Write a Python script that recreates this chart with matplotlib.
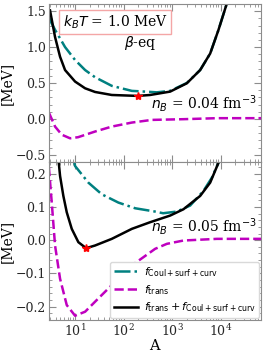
import matplotlib
matplotlib.use("Agg")
import matplotlib.pyplot as plt
from matplotlib.ticker import AutoMinorLocator, LogLocator, NullFormatter

plt.rcParams['font.family'] = ['DejaVu Serif']
plt.rcParams['mathtext.fontset'] = 'dejavusans'

# ---------------- data: n_B = 0.04 fm^-3 (top panel) ----------------
A_tot_04 = [3.05, 3.87, 4.91, 6.22, 10.0, 16.1, 25.8, 57.1, 196, 352, 910, 2009, 3777, 6075, 9020, 13430]
f_tot_04 = [1.51, 1.14, 0.865, 0.68, 0.52, 0.426, 0.375, 0.333, 0.32, 0.333, 0.38, 0.496, 0.68, 0.91, 1.24, 1.61]

A_coul_04 = [2.91, 3.87, 6.22, 10.0, 16.1, 25.8, 57.1, 147.6, 277, 484, 910, 2009, 3777, 6075, 9020, 13430]
f_coul_04 = [1.40, 1.24, 1.00, 0.82, 0.68, 0.58, 0.46, 0.39, 0.38, 0.37, 0.39, 0.50, 0.68, 0.91, 1.24, 1.61]

A_trans_04 = [2.91, 3.87, 5.32, 7.89, 11.5, 25.8, 57.1, 147.6, 381, 1711, 8357, 75100]
f_trans_04 = [0.083, -0.107, -0.22, -0.27, -0.255, -0.176, -0.107, -0.051, -0.014, -0.004, 0.01, 0.01]

A_min_04 = [196]
f_min_04 = [0.32]

# ---------------- data: n_B = 0.05 fm^-3 (bottom panel) ----------------
A_tot_05 = [4.53, 4.91, 5.74, 6.74, 8.55, 11.7, 16.9, 25.8, 57.1, 147.6, 352, 910, 1711, 3777, 6075, 9020]
f_tot_05 = [0.245, 0.193, 0.133, 0.084, 0.034, -0.006, -0.024, -0.016, 0.004, 0.034, 0.054, 0.074, 0.093, 0.133, 0.173, 0.233]

A_coul_05 = [9.5, 10.0, 18.8, 35.5, 78.2, 172.6, 446, 652, 1250, 2350, 4418, 6586, 9020]
f_coul_05 = [0.24, 0.223, 0.173, 0.138, 0.113, 0.096, 0.086, 0.081, 0.086, 0.104, 0.148, 0.188, 0.233]

A_trans_05 = [2.85, 2.91, 3.31, 3.87, 4.91, 6.74, 10.0, 16.1, 30.2, 57.1, 147.6, 446, 778, 1711, 8357, 75100]
f_trans_05 = [0.26, 0.213, 0.113, -0.016, -0.116, -0.195, -0.227, -0.215, -0.175, -0.135, -0.076, -0.026, -0.011, -0.001, 0.004, 0.004]

A_min_05 = [16.9]
f_min_05 = [-0.024]

labels = [r'$f_{\rm Coul+surf+curv}$', r'$f_{\rm trans}$', r'$f_{\rm trans}+f_{\rm Coul+surf+curv}$']

teal = '#008080'
mag = '#bf00bf'
spine_c = '0.55'

fig = plt.figure(figsize=(2.7, 3.6), dpi=100)
ax1 = fig.add_axes([0.18, 0.55, 0.787, 0.439])
ax2 = fig.add_axes([0.18, 0.111, 0.787, 0.439], sharex=ax1)

def draw(ax, Ac, fc, At, ft, Ab, fb, Am, fm):
    l1, = ax.plot(Ac, fc, color=teal, ls='-.', lw=1.8, label=labels[0])
    l2, = ax.plot(At, ft, color=mag, ls='--', lw=1.8, label=labels[1])
    l3, = ax.plot(Ab, fb, color='black', ls='-', lw=1.8, label=labels[2])
    ax.plot(Am, fm, marker='*', color='red', ms=6, ls='none', zorder=5)
    return [l1, l2, l3]

draw(ax1, A_coul_04, f_coul_04, A_trans_04, f_trans_04, A_tot_04, f_tot_04, A_min_04, f_min_04)
handles = draw(ax2, A_coul_05, f_coul_05, A_trans_05, f_trans_05, A_tot_05, f_tot_05, A_min_05, f_min_05)

ax1.set_xscale('log')
ax1.set_xlim(2.85, 6.8e4)
ax1.set_ylim(-0.6, 1.6)
ax2.set_ylim(-0.24, 0.235)
ax1.set_yticks([-0.5, 0.0, 0.5, 1.0, 1.5])
ax2.set_yticks([-0.2, -0.1, 0.0, 0.1, 0.2])

for ax in (ax1, ax2):
    for s in ax.spines.values():
        s.set_color(spine_c)
    ax.yaxis.set_minor_locator(AutoMinorLocator(5))
    ax.xaxis.set_major_locator(LogLocator(base=10, numticks=10))
    ax.xaxis.set_minor_locator(LogLocator(base=10, subs=range(2, 10), numticks=20))
    ax.xaxis.set_minor_formatter(NullFormatter())
    ax.tick_params(which='both', direction='in', top=True, right=True, color=spine_c,
                   labelsize=9, labelcolor='0.15', pad=2)
    ax.tick_params(which='major', length=5)
    ax.tick_params(which='minor', length=2.5)
    ax.set_ylabel('[MeV]', fontsize=10)
    ax.yaxis.set_label_coords(-0.165, 0.5)

ax1.tick_params(labelbottom=False)
ax2.set_xlabel('A', fontsize=10.5, labelpad=0)

ax1.text(0.313, 0.886, r'$k_BT$ = 1.0 MeV', transform=ax1.transAxes, fontsize=10,
         ha='center', va='center',
         bbox=dict(boxstyle='square,pad=0.25', fc='white', ec='#f4a6a6', lw=1))
ax1.text(0.43, 0.753, r'$\beta$-eq', transform=ax1.transAxes, fontsize=10,
         ha='center', va='center')
ax1.text(0.98, 0.367, r'$n_B$ = 0.04 fm$^{-3}$', transform=ax1.transAxes, fontsize=10,
         ha='right', va='center')
ax2.text(0.98, 0.589, r'$n_B$ = 0.05 fm$^{-3}$', transform=ax2.transAxes, fontsize=10,
         ha='right', va='center')

ax2.legend(handles=handles, loc='lower right', fontsize=8, handlelength=2.2,
           frameon=True, framealpha=1, edgecolor='0.85', fancybox=True,
           borderaxespad=0.2, labelspacing=0.35, handletextpad=0.5, borderpad=0.3)

fig.savefig('out.png', dpi=100)
